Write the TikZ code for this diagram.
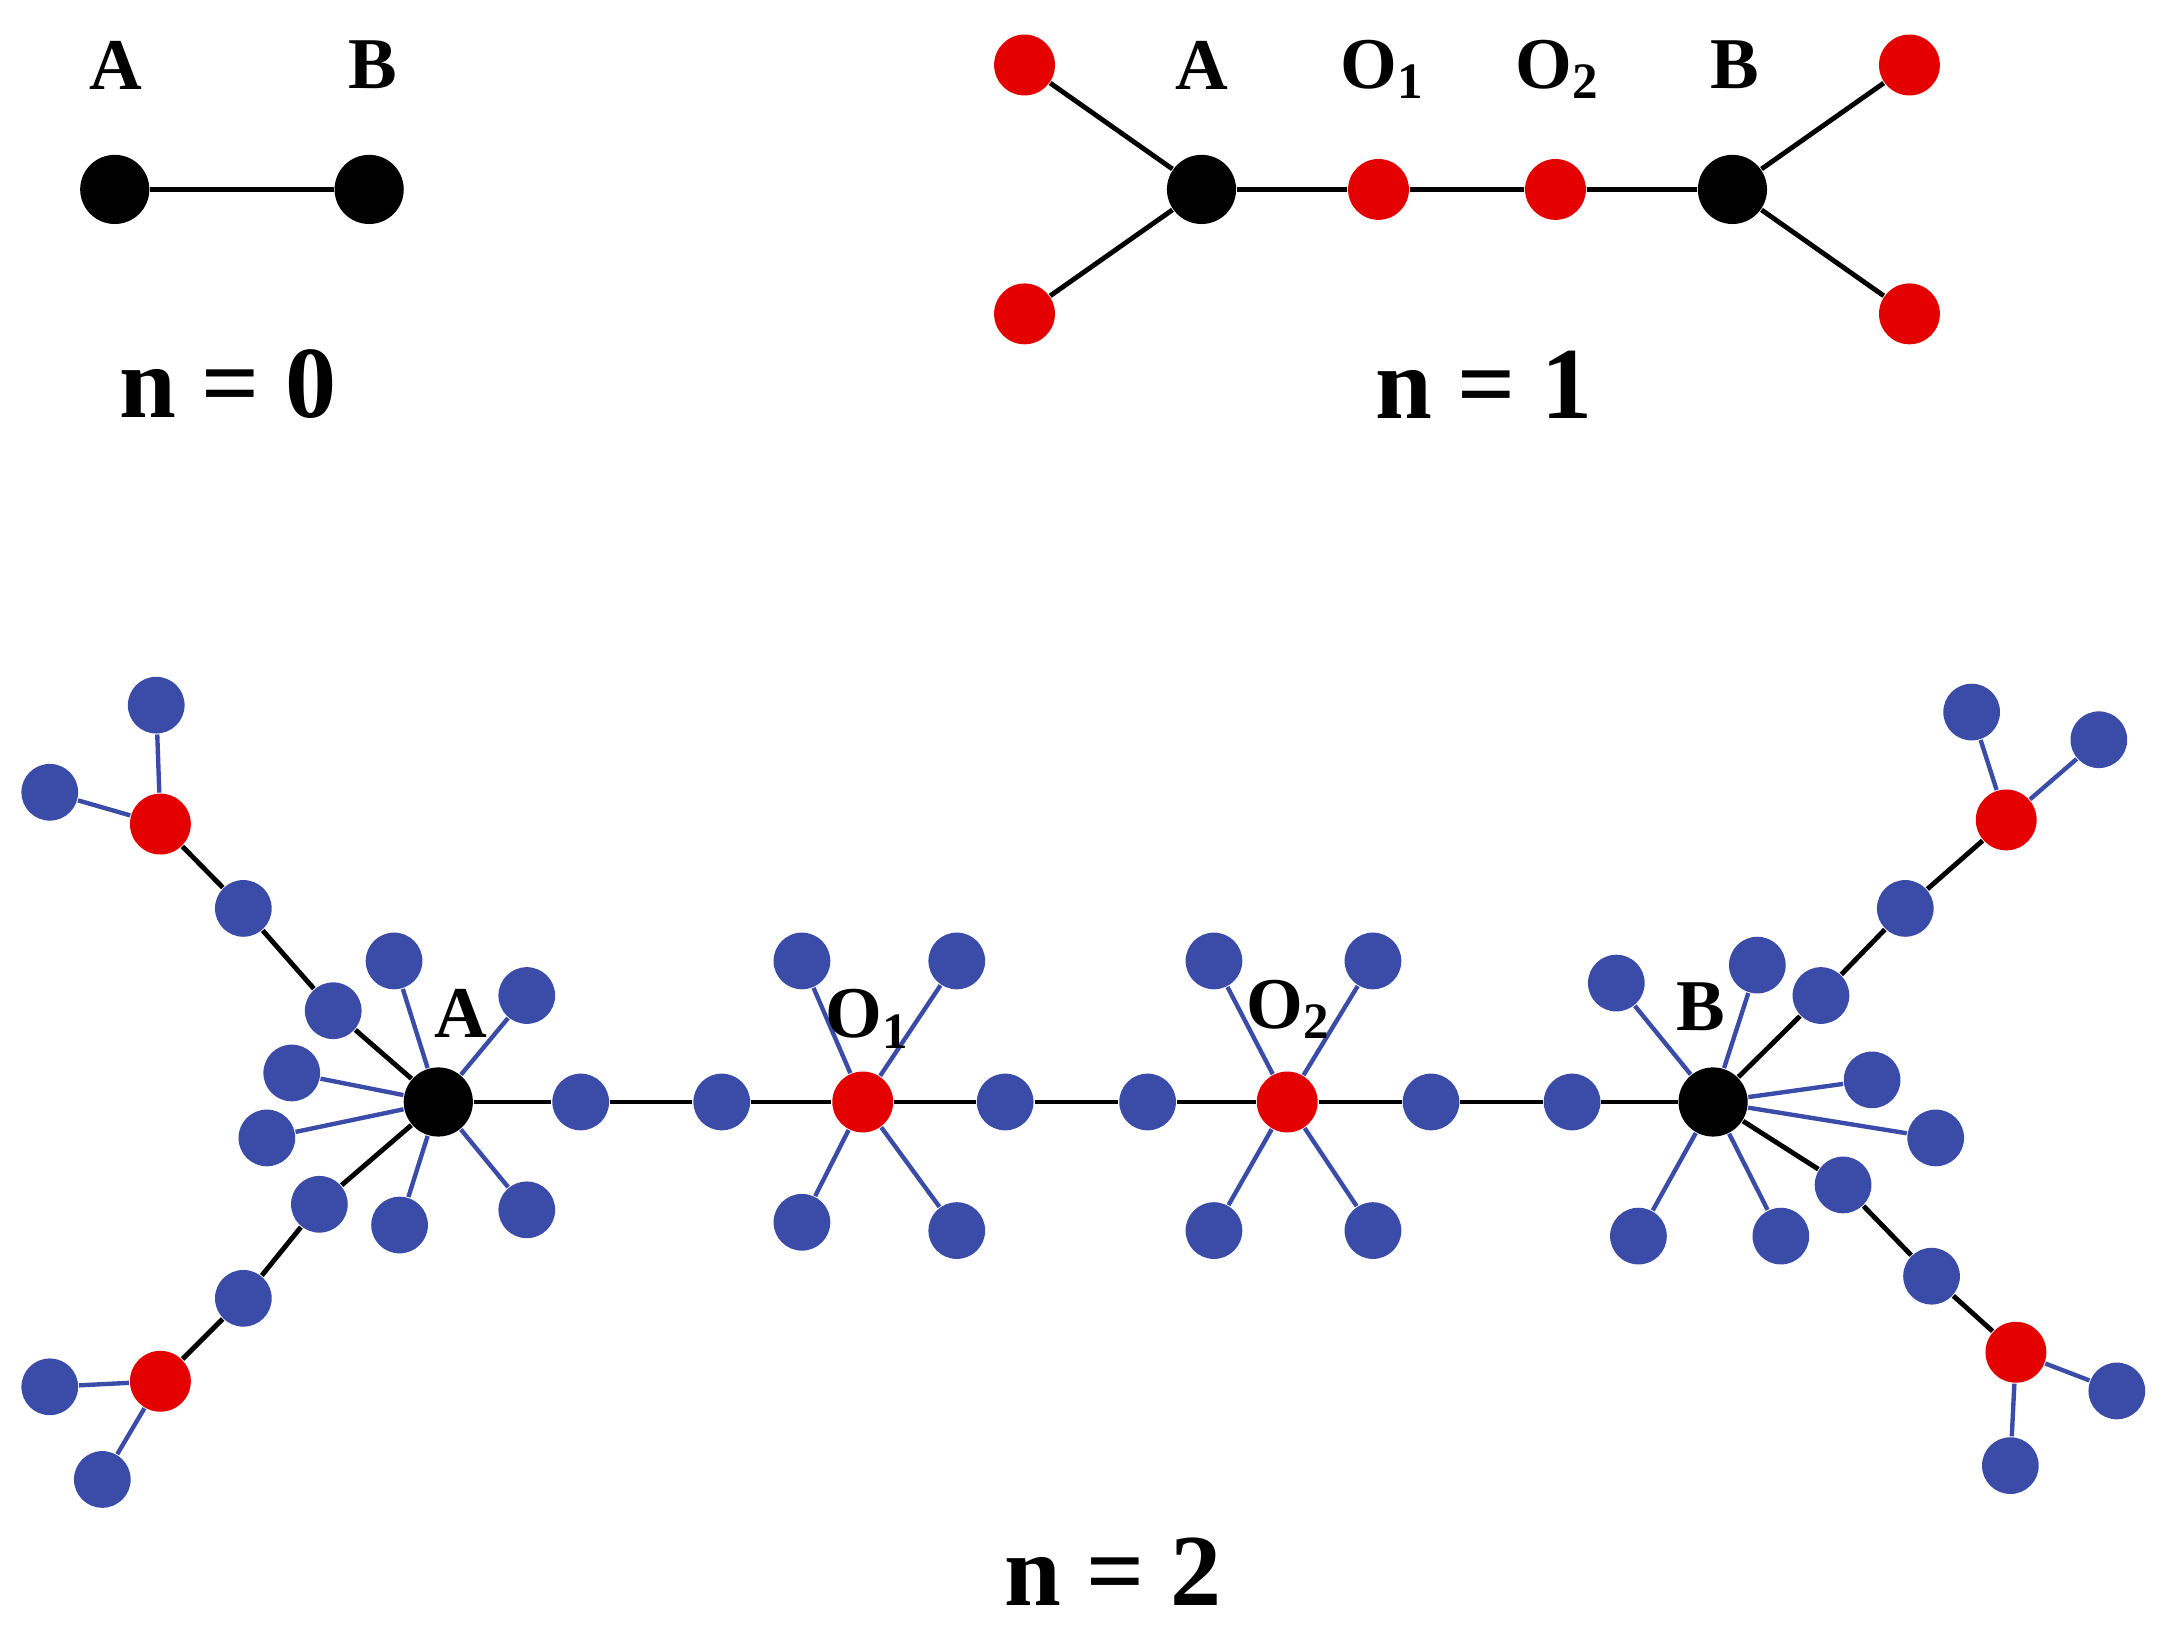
\documentclass[tikz,border=0pt]{standalone}
\usepackage{fontspec}
\setmainfont{Liberation Serif}
\begin{document}
\begin{tikzpicture}[x=0.01cm,y=-0.01cm,
 bk/.style={circle,fill=black,minimum size=50\pgflinewidth,inner sep=0pt,minimum size=0.5cm},
 rd/.style={circle,fill=red!90!black,inner sep=0pt,minimum size=0.44cm},
 bl/.style={circle,fill=blue!55!black!80,fill={rgb,255:red,58;green,76;blue,167},inner sep=0pt,minimum size=0.41cm},
 bln/.style={draw={rgb,255:red,58;green,76;blue,167},line width=0.9pt},
 blk/.style={draw=black,line width=1pt},
 lab/.style={font=\bfseries\fontsize{15}{15}\selectfont},
 big/.style={font=\bfseries\fontsize{21}{21}\selectfont}]
\useasboundingbox (0,0) rectangle (1568,1175);
% n=0
\node[bk] (a0) at (83,137) {};
\node[bk] (b0) at (267,137) {};
\draw[blk] (a0) -- (b0);
\node[lab] (la0) at (84,47) {A};
\node[lab] (lb0) at (270,47) {B};
\node[big] (n0) at (165,278) {n = 0};
% n=1
\node[bk] (a1) at (869,137) {};
\node[rd] (o11) at (997,137) {};
\node[rd] (o21) at (1125,137) {};
\node[bk] (b1) at (1253,137) {};
\node[rd] (r1) at (741,47) {};
\node[rd] (r2) at (741,227) {};
\node[rd] (r3) at (1381,47) {};
\node[rd] (r4) at (1381,227) {};
\draw[blk] (r1)--(a1)--(o11)--(o21)--(b1)--(r3) (r2)--(a1) (b1)--(r4);
\node[lab] (la1) at (869,47) {A};
\node[lab] (lo11) at (1000,50) {O$_{\mathbf 1}$};
\node[lab] (lo21) at (1127,50) {O$_{\mathbf 2}$};
\node[lab] (lb1) at (1255,47) {B};
\node[big] (n1) at (1073,278) {n = 1};
% n=2 main chain
\foreach \n/\x/\s in {A/317/bk,c1/420/bl,c2/522/bl,O1/624/rd,c3/727/bl,c4/830/bl,O2/931/rd,c5/1035/bl,c6/1137/bl,B/1239/bk}
  \node[\s] (\n) at (\x,797) {};
\draw[blk] (A)--(c1)--(c2)--(O1)--(c3)--(c4)--(O2)--(c5)--(c6)--(B);
% spokes
\foreach \c/\x/\y [count=\i] in {A/285/695,A/381/720,A/211/776,A/193/823,A/289/886,A/381/875,
  O1/580/695,O1/692/695,O1/580/884,O1/692/890,O2/878/695,O2/993/695,O2/878/890,O2/993/890,
  B/1169/711,B/1271/698,B/1354/781,B/1400/823,B/1185/894,B/1288/894}
  {\node[bl] (s\i) at (\x,\y) {}; \draw[bln] (\c)--(s\i);}
% branches
\node[bl] (p1) at (241,731) {}; \node[bl] (p2) at (176,657) {}; \node[rd] (R1) at (116,596) {};
\node[bl] (q1) at (231,871) {}; \node[bl] (q2) at (176,939) {}; \node[rd] (R2) at (116,999) {};
\node[bl] (u1) at (1317,720) {}; \node[bl] (u2) at (1378,657) {}; \node[rd] (R3) at (1451,593) {};
\node[bl] (v1) at (1333,857) {}; \node[bl] (v2) at (1397,923) {}; \node[rd] (R4) at (1458,978) {};
\draw[blk] (A)--(p1)--(p2)--(R1) (A)--(q1)--(q2)--(R2) (B)--(u1)--(u2)--(R3) (B)--(v1)--(v2)--(R4);
\foreach \c/\x/\y [count=\i] in {R1/113/510,R1/36/573,R2/36/1003,R2/74/1070,R3/1426/515,R3/1518/535,R4/1531/1006,R4/1454/1060}
  {\node[bl] (t\i) at (\x,\y) {}; \draw[bln] (\c)--(t\i);}
\node[lab] (lA) at (333,733) {A};
\node[lab] (lO1) at (628,737) {O$_{\mathbf 1}$};
\node[lab] (lO2) at (932,730) {O$_{\mathbf 2}$};
\node[lab] (lB) at (1230,728) {B};
\node[big] (n2) at (805,1137) {n = 2};
\end{tikzpicture}
\end{document}
